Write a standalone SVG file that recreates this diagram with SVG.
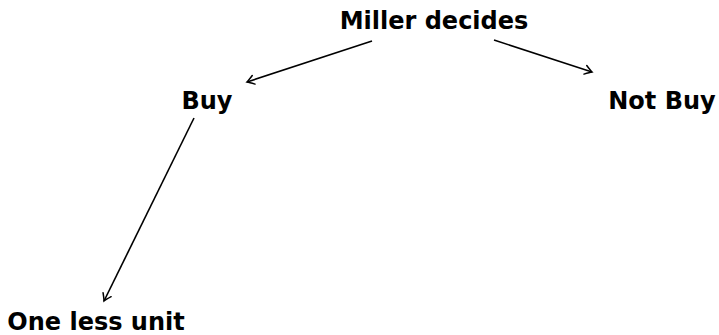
<svg xmlns="http://www.w3.org/2000/svg" width="719" height="335" viewBox="0 0 719 335">
<style>
.lbl{font-family:"DejaVu Sans","Liberation Sans",sans-serif;font-weight:bold;font-size:24px;fill:#000;text-anchor:middle}
.edge{stroke:#000;stroke-width:1.6;fill:none;marker-end:url(#tip)}
</style>
<defs>
<marker id="tip" viewBox="-8 -6 10 12" markerWidth="10" markerHeight="12" refX="0" refY="0" orient="auto" markerUnits="userSpaceOnUse">
<path d="M-7,-4.5 Q-2,-1 0,0 Q-2,1 -7,4.5" stroke="#000" stroke-width="1.5" fill="none" stroke-linecap="round"/>
</marker>
</defs>
<g id="n-miller"><text class="lbl" x="434" y="29">Miller decides</text></g>
<g id="n-buy"><text class="lbl" x="207" y="109">Buy</text></g>
<g id="n-notbuy"><text class="lbl" x="662" y="109">Not Buy</text></g>
<g id="n-oneless"><text class="lbl" x="96" y="330">One less unit</text></g>
<g id="edges">
<line class="edge" x1="372" y1="41" x2="247" y2="82"/>
<line class="edge" x1="494" y1="40" x2="592" y2="72"/>
<line class="edge" x1="194" y1="118" x2="104" y2="301"/>
</g>
</svg>
